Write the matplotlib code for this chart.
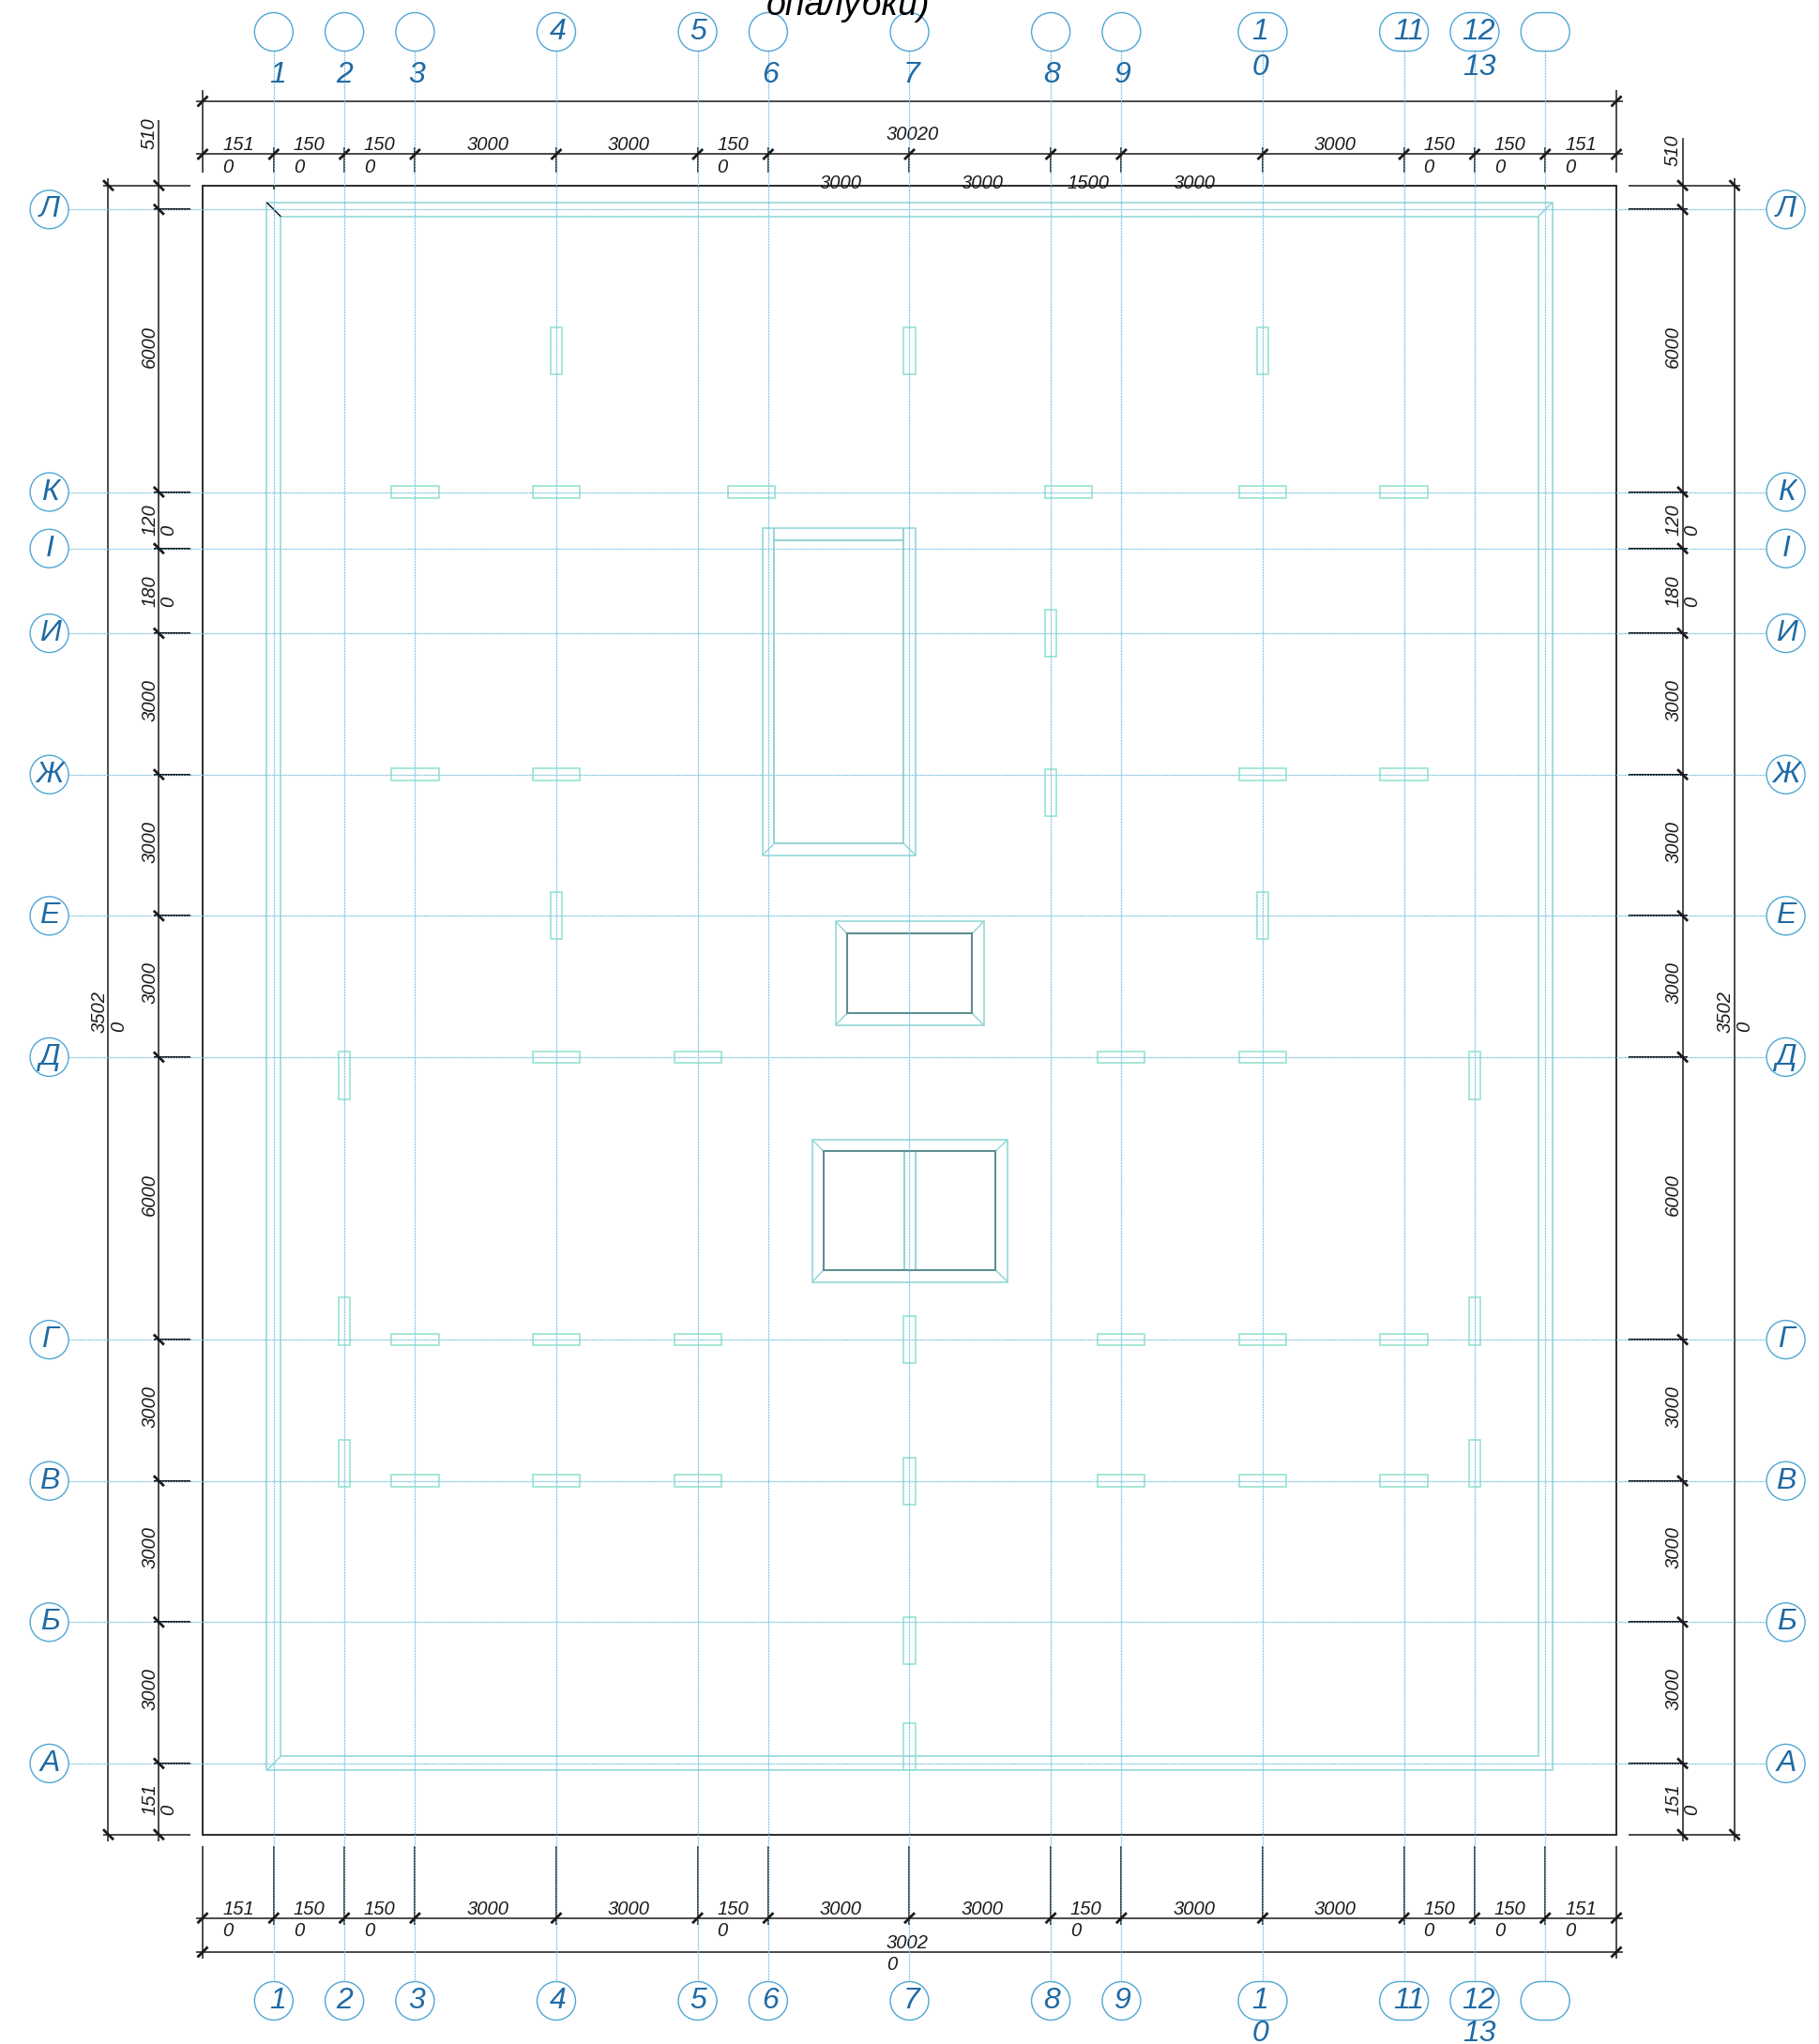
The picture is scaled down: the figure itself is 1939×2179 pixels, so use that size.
import matplotlib
matplotlib.use("Agg")
import matplotlib.pyplot as plt
from matplotlib.patches import Circle, Polygon, Rectangle
import numpy as np

W, H = 1939, 2179
S = 1507 / 30020  # px per mm of the drawing
LEFT_PX, BOTTOM_PX = 216, 223.3

# plan size and axis spacing, mm
plan_w = 30020
plan_h = 35020
x_spans = [1510, 1500, 1500, 3000, 3000, 1500, 3000, 3000, 1500, 3000, 3000, 1500, 1500, 1510]
y_spans = [1510, 3000, 3000, 3000, 6000, 3000, 3000, 3000, 1800, 1200, 6000, 510]
axis_x = list(np.cumsum(x_spans)[:-1])
axis_y = list(np.cumsum(y_spans)[:-1])
row_names = ["А", "Б", "В", "Г", "Д", "Е", "Ж", "И", "І", "К", "Л"]

# dimension text
top_dims = [("151", "0"), ("150", "0"), ("150", "0"), ("3000", ""), ("3000", ""), ("150", "0"), ("3000", ""),
            ("3000", ""), ("1500", ""), ("3000", ""), ("3000", ""), ("150", "0"), ("150", "0"), ("151", "0")]
low_top_row = [6, 7, 8, 9]
bottom_dims = [("151", "0"), ("150", "0"), ("150", "0"), ("3000", ""), ("3000", ""), ("150", "0"), ("3000", ""),
               ("3000", ""), ("150", "0"), ("3000", ""), ("3000", ""), ("150", "0"), ("150", "0"), ("151", "0")]
side_dims = [("151", "0"), ("3000", ""), ("3000", ""), ("3000", ""), ("6000", ""), ("3000", ""), ("3000", ""),
             ("3000", ""), ("180", "0"), ("120", "0"), ("6000", "")]

# axis labels: text, x offset in px from bubble, in bubble or under it
top_labels = [("1", 4, 0), ("2", 0, 0), ("3", 2, 0), ("4", 2, 1), ("5", 1, 1), ("6", 2, 0), ("7", 2, 0),
              ("8", 1, 0), ("9", 1, 0), ("1", -3, 1), ("11", 5, 1), ("12", 4, 1)]
bottom_labels = [("1", 4), ("2", 0), ("3", 2), ("4", 2), ("5", 1), ("6", 2), ("7", 2), ("8", 1), ("9", 1),
                 ("1", -3), ("11", 5), ("12", 4)]

# columns, mm (centres)
hor_cols = [(4510, 28510), (7510, 28510), (11650, 28510), (18390, 28510), (22510, 28510), (25510, 28510),
            (4510, 22510), (7510, 22510), (22510, 22510), (25510, 22510),
            (7510, 16510), (10510, 16510), (19510, 16510), (22510, 16510),
            (4510, 10510), (7510, 10510), (10510, 10510), (19510, 10510), (22510, 10510), (25510, 10510),
            (4510, 7510), (7510, 7510), (10510, 7510), (19510, 7510), (22510, 7510), (25510, 7510)]
ver_cols = [(7510, 31510), (15010, 31510), (22510, 31510), (18010, 25510), (18010, 22120),
            (7510, 19510), (22510, 19510), (3010, 16120), (27010, 16120),
            (3010, 10900), (27010, 10900), (15010, 10510), (3010, 7880), (27010, 7880),
            (15010, 7510), (15010, 4120), (15010, 1870)]

# slab edge and openings, mm: x0, x1, y0, y1
frame_out = (1360, 28660, 1360, 34660)
frame_in = (1660, 28360, 1660, 34360)
open1_out = (11886, 15139, 20797, 27737)
open1_in = (12137, 14886, 21044, 27490)
open2_out = (13440, 16588, 17191, 19390)
open2_in = (13685, 16335, 17444, 19131)
open3_out = (12942, 17098, 11733, 14755)
open3_in = (13187, 16833, 11992, 14510)
open3_mid = [14894, 15139]

BLACK = "#1a1a1a"
TEAL = "#96d8d8"
TEAL2 = "#84cccc"
MINT = "#96e4cf"
DARK = "#5e8f92"
GRID = "#7cc1e2"
GRID_PALE = "#d6eef6"
BLUE = "#1f6aa5"
RING = "#4fa6d6"
FONT = "Liberation Sans"


def mm_x(px):
    return (px - LEFT_PX) / S


def mm_y(px):
    return (H - BOTTOM_PX - px) / S


fig = plt.figure(figsize=(W / 100, H / 100), dpi=100)
ax = fig.add_axes([0, 0, 1, 1])
ax.set_xlim(mm_x(0), mm_x(W))
ax.set_ylim(mm_y(H), mm_y(0))
ax.axis("off")


def line(xs, ys, c=BLACK, lw=1.0, **kw):
    ax.plot(xs, ys, color=c, lw=lw, solid_capstyle="butt", **kw)


def tick(x, y, back=False):
    d = 110
    if back:
        line([x - d, x + d], [y + d, y - d], lw=2.0, zorder=5)
    else:
        line([x - d, x + d], [y - d, y + d], lw=2.0, zorder=5)


def label(x, y, s, size=14.5, rot=0, c=BLACK):
    # long numbers sit a little further along their dimension line
    if len(s) == 4 and rot == 0:
        x += 2 / S
    if len(s) == 4 and rot == 90:
        y += 4 / S
    ax.text(x, y, s, fontsize=size, rotation=rot, color=c, family=FONT, style="italic",
            ha="center", va="center", clip_on=False)


def box(b, c=TEAL, lw=1.2, z=2):
    ax.add_patch(Rectangle((b[0], b[2]), b[1] - b[0], b[3] - b[2], fill=False, ec=c, lw=lw, zorder=z))


def mitres(o, i, c=TEAL, skip=()):
    corners = [(0, 2), (1, 2), (0, 3), (1, 3)]
    for n, (a, b) in enumerate(corners):
        if n in skip:
            continue
        line([o[a], i[a]], [o[b], i[b]], c=c, lw=1.1, zorder=2)


# outer outline of the drawing
box((0, plan_w, 0, plan_h), c=BLACK, lw=1.3, z=3)

# horizontal dimension chains
top_y, top_y2, ext_top = 35682, 36807, 35283
bot_y, bot_y2, ext_bot = -1773, -2496, -245
edges_x = [0] + axis_x + [plan_w]
for i, x in enumerate(edges_x):
    end = edges_x[0] == x or x == plan_w
    line([x, x], [ext_top, (37040 if end else top_y + 140)], lw=1.1)
    tick(x, top_y)
    line([x, x], [ext_bot, (bot_y2 - 140 if end else bot_y - 140)], lw=1.1)
    tick(x, bot_y)
for x in [0, plan_w]:
    tick(x, top_y2)
    tick(x, bot_y2)
for y in [top_y, top_y2, bot_y, bot_y2]:
    line([-130, plan_w + 130], [y, y], lw=1.1)
for x in [axis_x[0], axis_x[-1]]:
    line([x, x], [plan_h, plan_h - 90], lw=1.1, zorder=5)

for i, (a, b) in enumerate(top_dims):
    mid = (edges_x[i] + edges_x[i + 1]) / 2
    if i in low_top_row:
        label(mid, 35060, a)
        continue
    label(mid, top_y + 200, a)
    if b:
        label(mid - 222, top_y - 280, b)
for i, (a, b) in enumerate(bottom_dims):
    mid = (edges_x[i] + edges_x[i + 1]) / 2
    label(mid, bot_y + 190, a)
    if b:
        label(mid - 222, bot_y - 280, b)
label(15080, 36100, "30020")
label(14930, -2297, "3002")
label(14640, -2767, "0")

# vertical dimension chains
edges_y = [0] + axis_y + [plan_h]
sides = [(-929, -2002, -259, -1, 36408), (31426, 32530, plan_w + 255, 1, 36030)]
for xd, xo, xe, sgn, ytop in sides:
    line([xd, xd], [-145, ytop], lw=1.1)
    line([xo, xo], [-145, 35173], lw=1.1)
    for y in edges_y:
        far = xo if (y == 0 or y == plan_h) else xd
        line([xe, far + sgn * 110], [y, y], lw=1.1 if far == xo else 1.5)
        tick(xd, y, back=True)
    for y in [0, plan_h]:
        tick(xo, y, back=True)
    for i, (a, b) in enumerate(side_dims):
        mid = (edges_y[i] + edges_y[i + 1]) / 2
        label(xd - 195, mid, a, rot=90)
        if b:
            label(xd + 195, mid - 222, b, rot=90)
    label(xo - 195, 17400, "3502", rot=90)
    label(xo + 215, 17165, "0", rot=90)
label(-1130, 36133, "510", rot=90)
label(31223, 35770, "510", rot=90)

# slab edge, openings, columns
box(frame_out)
box(frame_in)
mitres(frame_out, frame_in, skip=(1, 2))
line([frame_out[0], frame_in[0]], [frame_out[3], frame_in[3]], lw=1.1, zorder=4)

box(open1_out)
line([open1_in[0], open1_in[0]], [open1_in[2], open1_out[3]], c=TEAL2, lw=1.2)
line([open1_in[1], open1_in[1]], [open1_in[2], open1_out[3]], c=TEAL2, lw=1.2)
line([open1_in[0], open1_in[1]], [open1_in[2], open1_in[2]], c=TEAL2, lw=1.2)
line([open1_in[0], open1_in[1]], [open1_in[3], open1_in[3]], c=TEAL2, lw=1.2)
mitres(open1_out, open1_in, skip=(2, 3))

for o, i in [(open2_out, open2_in), (open3_out, open3_in)]:
    box(o)
    box(i, c=DARK, lw=1.5, z=3)
    mitres(o, i)
for x in open3_mid:
    line([x, x], [open3_in[2], open3_in[3]], c=TEAL2, lw=1.2)

for x, y in hor_cols:
    ax.add_patch(Rectangle((x - 500, y - 125), 1000, 250, fill=False, ec=MINT, lw=1.2, zorder=2))
for x, y in ver_cols:
    ax.add_patch(Rectangle((x - 125, y - 500), 250, 1000, fill=False, ec=MINT, lw=1.2, zorder=2))

# axes and bubbles
R = 20.5 / S
y_top, y_bot = mm_y(34), mm_y(2133)
x_left, x_right = mm_x(52.6), mm_x(1903.6)
dot = (0, (1.3, 1.3))
for x in axis_x:
    line([x, x], [y_bot + R, y_top - R], c=GRID_PALE, lw=1.0, zorder=1)
    ax.plot([x, x], [y_bot + R, y_top - R], color=GRID, lw=0.8, ls=dot, zorder=4)
for y in axis_y:
    line([x_left + R, x_right - R], [y, y], c=GRID_PALE, lw=1.0, zorder=1)
    ax.plot([x_left + R, x_right - R], [y, y], color=GRID, lw=0.8, ls=dot, zorder=4)


def bubble(x, y, wide=False):
    if wide:
        # long bubble for two-digit axes: two half circles joined up
        half = 5.5 / S
        t = np.linspace(-np.pi / 2, np.pi / 2, 40)
        xs = np.r_[x + half + R * np.cos(t), x - half - R * np.cos(t[::-1])]
        ys = np.r_[y + R * np.sin(t), y + R * np.sin(t[::-1])]
        ax.add_patch(Polygon(np.c_[xs, ys], closed=True, fc="white", ec=RING, lw=1.0, zorder=6))
    else:
        ax.add_patch(Circle((x, y), R, fc="white", ec=RING, lw=1.0, zorder=6))


for i, x in enumerate(axis_x):
    for y in [y_top, y_bot]:
        bubble(x, y, wide=i >= 9)
for i, y in enumerate(axis_y):
    for x in [x_left, x_right]:
        bubble(x, y)
        ax.text(x + 10, y, row_names[i], fontsize=23, color=BLUE, family=FONT, style="italic",
                ha="center", va="center", zorder=7)


def axis_text(x, y, s):
    ax.text(x, y, s, fontsize=23, color=BLUE, family=FONT, style="italic", ha="center", va="center", zorder=7)


for x, (s, dx, inside) in zip(axis_x, top_labels):
    axis_text(x + dx / S, y_top if inside else mm_y(80), s)
for x, (s, dx) in zip(axis_x, bottom_labels):
    axis_text(x + dx / S, y_bot, s)
axis_text(axis_x[9] - 3 / S, mm_y(72), "0")
axis_text(axis_x[9] - 3 / S, mm_y(2168), "0")
axis_text(axis_x[11] + 5 / S, mm_y(72), "13")
axis_text(axis_x[11] + 5 / S, mm_y(2168), "13")

ax.text(mm_x(904), mm_y(16), "опалубки)", fontsize=27, color="black", family=FONT, style="italic",
        ha="center", va="baseline", zorder=8)

fig.savefig("out.png", dpi=100)
